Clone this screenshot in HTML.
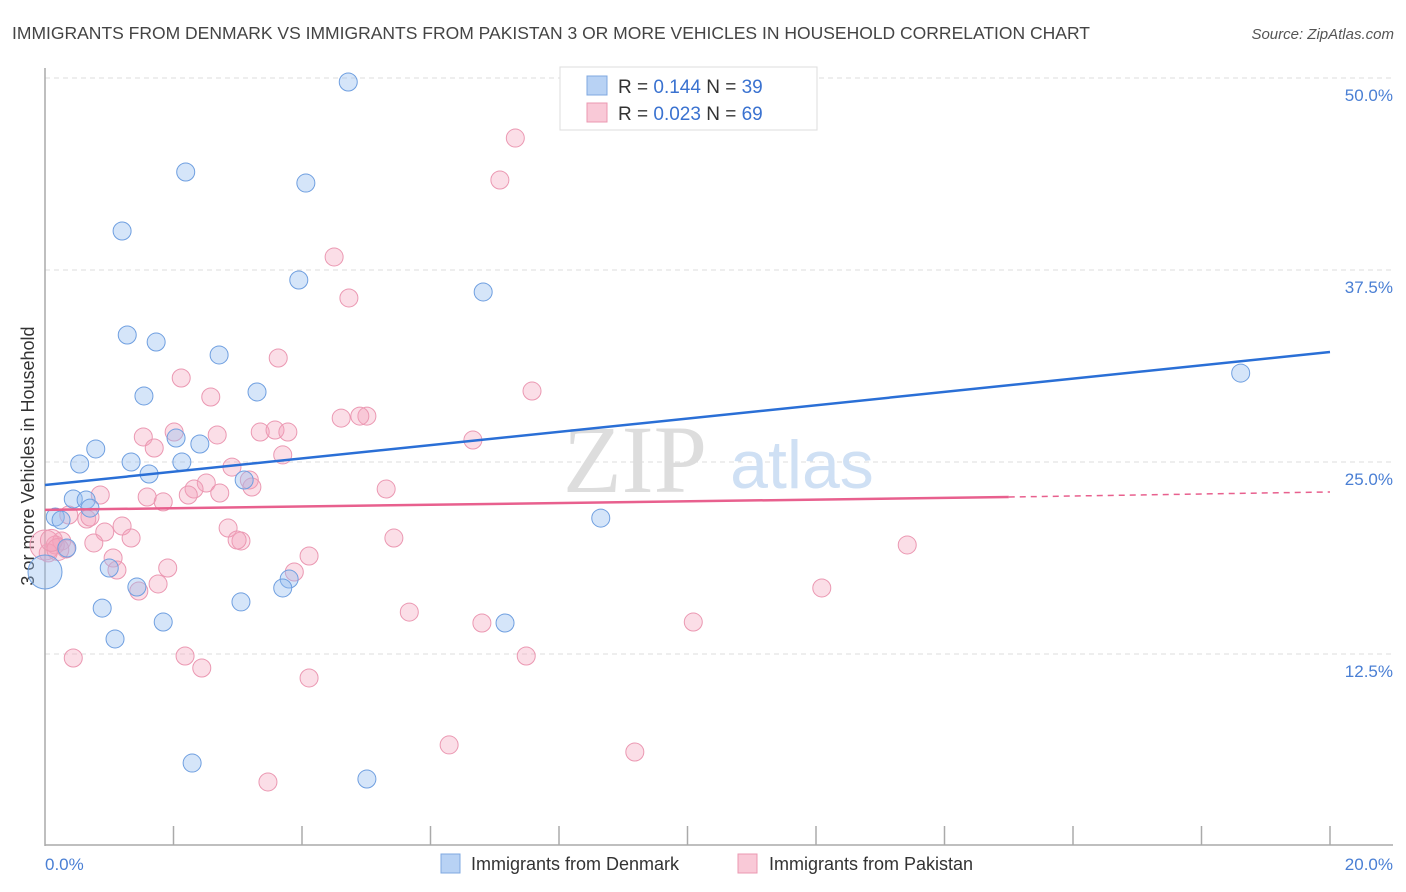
<!DOCTYPE html>
<html><head><meta charset="utf-8"><style>
body{margin:0;background:#fff;font-family:"Liberation Sans",sans-serif;}
svg{display:block}
</style></head><body>
<svg id="chart" width="1406" height="892" viewBox="0 0 1406 892" xmlns="http://www.w3.org/2000/svg" font-family="Liberation Sans, sans-serif">
<text x="12" y="39" font-size="17.5" fill="#444">IMMIGRANTS FROM DENMARK VS IMMIGRANTS FROM PAKISTAN 3 OR MORE VEHICLES IN HOUSEHOLD CORRELATION CHART</text>
<text x="1394" y="39" font-size="15" fill="#555" font-style="italic" text-anchor="end">Source: ZipAtlas.com</text>
<g id="grid"></g>
<g>
<text x="635" y="492" font-size="96" fill="#ddd" font-family="Liberation Serif, serif" text-anchor="middle">ZIP</text>
<text x="802" y="488" font-size="68" fill="#cfe0f4" text-anchor="middle">atlas</text>
</g>
<line x1="45" y1="68" x2="45" y2="846" stroke="#aaa" stroke-width="1.5"/>
<line x1="45" y1="845" x2="1393" y2="845" stroke="#aaa" stroke-width="1.5"/>
<text transform="translate(34,456) rotate(-90)" font-size="18" fill="#333" text-anchor="middle">3 or more Vehicles in Household</text>
<text x="45" y="870" font-size="17" fill="#4a7fd4">0.0%</text>
<text x="1393" y="870" font-size="17" fill="#4a7fd4" text-anchor="end">20.0%</text>
<g id="pts"></g>
<g id="trend"></g>
<g>
<rect x="560" y="67" width="257" height="63" fill="#fff" stroke="#ddd"/>
<rect x="587" y="76" width="20" height="19" fill="#b8d2f4" stroke="#7fa8e0"/>
<text x="618" y="93" font-size="19" fill="#333">R = <tspan fill="#3a72d0">0.144</tspan>   N = <tspan fill="#3a72d0">39</tspan></text>
<rect x="587" y="103" width="20" height="19" fill="#f9c9d7" stroke="#eb98b2"/>
<text x="618" y="120" font-size="19" fill="#333">R = <tspan fill="#3a72d0">0.023</tspan>   N = <tspan fill="#3a72d0">69</tspan></text>
</g>
<g>
<rect x="441" y="854" width="19" height="19" fill="#b8d2f4" stroke="#7fa8e0"/>
<text x="471" y="870" font-size="18" fill="#333">Immigrants from Denmark</text>
<rect x="738" y="854" width="19" height="19" fill="#f9c9d7" stroke="#eb98b2"/>
<text x="769" y="870" font-size="18" fill="#333">Immigrants from Pakistan</text>
</g>
</svg>
<script>
const yTicks=[12.5,25,37.5,50];
const yTickLabels=["12.5%","25.0%","37.5%","50.0%"];
const xTicks=[2,4,6,8,10,12,14,16,18,20];
const denX=[4.72,2.19,4.06,1.20,3.95,6.82,1.28,1.73,2.71,1.54,3.30,2.04,0.79,2.41,0.54,1.34,2.13,1.62,3.10,0.44,0.64,0.70,0.16,0.25,8.65,0.34,1.0,1.43,3.80,3.70,0.89,3.05,1.84,7.16,1.09,2.29,5.01,18.61,0];
const denY=[49.74,43.88,43.16,40.04,36.85,36.07,33.27,32.81,31.97,29.30,29.56,26.56,25.85,26.17,24.87,25.0,25.0,24.22,23.83,22.59,22.53,22.0,21.42,21.22,21.35,19.40,18.10,16.86,17.38,16.80,15.49,15.89,14.58,14.52,13.48,5.40,4.36,30.79,17.84];
const pakX=[7.32,7.08,4.50,4.73,3.63,2.12,7.58,2.58,4.61,5.01,4.90,2.01,1.53,2.68,3.35,3.58,3.78,1.70,6.66,3.70,2.91,3.18,2.51,2.32,5.31,0.86,1.59,2.23,1.84,2.72,3.22,0.37,0.65,0.70,1.20,2.85,0.93,1.34,0.76,0.26,5.43,3.05,2.99,1.06,4.11,0.33,0.16,0.05,13.42,1.12,1.91,3.88,1.76,1.46,12.09,5.67,6.80,10.09,0.44,2.18,7.49,2.44,4.11,6.29,9.18,3.47,0,0.2,0.1];
const pakY=[46.09,43.36,38.35,35.68,31.77,30.47,29.62,29.23,27.86,27.99,27.99,26.95,26.63,26.76,26.95,27.08,26.95,25.91,26.43,25.46,24.67,23.83,23.63,23.24,23.24,22.85,22.72,22.85,22.40,22.98,23.37,21.55,21.29,21.42,20.83,20.70,20.44,20.05,19.73,19.86,20.05,19.86,19.92,18.75,18.88,19.34,19.60,19.08,19.60,17.97,18.10,17.84,17.06,16.60,16.80,15.23,14.52,14.58,12.24,12.37,12.37,11.59,10.94,6.58,6.12,4.17,19.6,19.3,19.9];
const denTrend=[23.5,32.16];
const pakTrend=[21.88,22.72,23.05];
const pakSolidEnd=15;
const xs=v=>45+v*64.25, ys=v=>846-v*15.36;
const NS="http://www.w3.org/2000/svg";
function mk(t,a,p){const e=document.createElementNS(NS,t);for(const k in a)e.setAttribute(k,a[k]);p.appendChild(e);return e;}
const grid=document.getElementById('grid'),svg=document.getElementById('chart');
yTicks.forEach((t,i)=>{
 const l=mk('line',{x1:45,x2:1393,y1:ys(t),y2:ys(t),stroke:'#ddd','stroke-dasharray':'5,4'},grid);
 
 
 const tx=mk('text',{x:1393,y:ys(t)+23,'font-size':17,fill:'#4a7fd4','text-anchor':'end'},grid);
 tx.textContent=yTickLabels[i];
 
 
});
xTicks.forEach(t=>{
 const l=mk('line',{x1:xs(t),x2:xs(t),y1:826,y2:845,stroke:'#aaa','stroke-width':1.5},grid);
 
 
});
const pts=document.getElementById('pts');
pakX.forEach((x,i)=>{
 const r=(i>=66)?(i==66?15:11):9;
 const c=mk('circle',{cx:xs(x),cy:ys(pakY[i]),r:r,fill:'rgba(244,160,186,0.35)',stroke:'#eb98b2','stroke-width':1},pts);
 
 
});
denX.forEach((x,i)=>{
 const r=i==38?17:9;
 const c=mk('circle',{cx:xs(x),cy:ys(denY[i]),r:r,fill:'rgba(150,190,240,0.4)',stroke:'#6f9fe0','stroke-width':1},pts);
 
 
});
const tr=document.getElementById('trend');
const b=mk('line',{x1:xs(0),y1:ys(denTrend[0]),x2:xs(20),y2:ys(denTrend[1]),stroke:'#2a6fd6','stroke-width':2.5},tr);


const p=mk('line',{x1:xs(0),y1:ys(pakTrend[0]),x2:xs(pakSolidEnd),y2:ys(pakTrend[1]),stroke:'#e8608e','stroke-width':2.5},tr);


const pd=mk('line',{x1:xs(pakSolidEnd),y1:ys(pakTrend[1]),x2:xs(20),y2:ys(pakTrend[2]),stroke:'#e8608e','stroke-width':1.5,'stroke-dasharray':'6,5'},tr);


</script>
</body></html>
